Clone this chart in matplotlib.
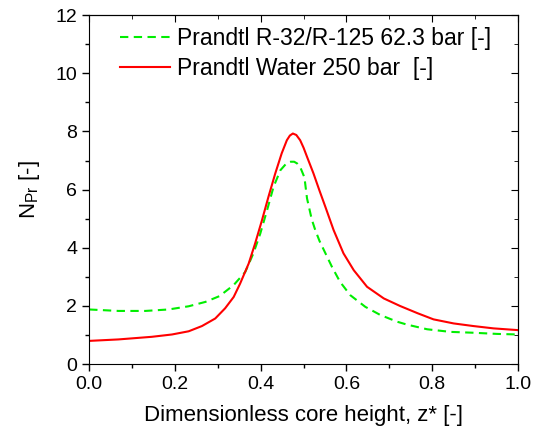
import numpy as np
import matplotlib
matplotlib.use('Agg')
import matplotlib.pyplot as plt

# Dados
z_agua = [0.0, 0.068, 0.146, 0.193, 0.232, 0.263, 0.294, 0.317, 0.337, 0.352, 0.372,
          0.387, 0.403, 0.418, 0.434, 0.449, 0.461, 0.468, 0.475, 0.483, 0.492, 0.500,
          0.508, 0.523, 0.537, 0.551, 0.570, 0.593, 0.617, 0.648, 0.687, 0.725, 0.766,
          0.803, 0.850, 0.896, 0.943, 1.0]
pr_agua = [0.80, 0.85, 0.94, 1.02, 1.13, 1.31, 1.57, 1.92, 2.31, 2.77, 3.46,
           4.15, 4.95, 5.75, 6.56, 7.25, 7.70, 7.86, 7.93, 7.88, 7.70, 7.44,
           7.13, 6.56, 5.97, 5.40, 4.61, 3.81, 3.23, 2.66, 2.26, 2.00, 1.75,
           1.54, 1.40, 1.31, 1.23, 1.17]

z_r32 = [0.0, 0.068, 0.131, 0.185, 0.232, 0.271, 0.304, 0.317, 0.337, 0.364, 0.383,
         0.399, 0.415, 0.430, 0.446, 0.461, 0.470, 0.478, 0.485, 0.492, 0.502, 0.508,
         0.519, 0.527, 0.537, 0.551, 0.566, 0.585, 0.609, 0.644, 0.679, 0.718, 0.741,
         0.788, 0.842, 0.896, 0.951, 1.0]
pr_r32 = [1.88, 1.83, 1.83, 1.88, 1.99, 2.14, 2.34, 2.49, 2.72, 3.17, 3.81,
          4.49, 5.30, 6.10, 6.67, 6.92, 6.96, 6.96, 6.90, 6.78, 6.42, 5.70,
          4.98, 4.62, 4.24, 3.81, 3.35, 2.83, 2.37, 1.97, 1.69, 1.46, 1.36,
          1.20, 1.11, 1.08, 1.04, 1.02]

plt.rcParams['font.family'] = ['Liberation Sans', 'DejaVu Sans']

fig = plt.figure(figsize=(5.47, 4.33), dpi=100)
ax = fig.add_axes([0.163, 0.159, 0.784, 0.806])

ax.plot(z_r32, pr_r32, color='#00ee00', linestyle=(0, (4, 2.6)), linewidth=1.5,
        label='Prandtl R-32/R-125 62.3 bar [-]')
ax.plot(z_agua, pr_agua, color='#ff0000', linewidth=1.5,
        label='Prandtl Water 250 bar  [-]')

ax.set_xlim(0, 1.0)
ax.set_ylim(0, 12)
ax.set_xticks(np.arange(0, 1.01, 0.2))
ax.set_xticks(np.arange(0, 1.01, 0.1), minor=True)
ax.set_yticks(np.arange(0, 13, 2))
ax.set_yticks(np.arange(0, 13, 1), minor=True)
ax.xaxis.set_major_formatter(matplotlib.ticker.FormatStrFormatter('%.1f'))
ax.tick_params(which='major', direction='out', length=5, width=1, labelsize=14)
ax.tick_params(which='minor', direction='out', length=3, width=1)

# eixos superior e direito com ticks para dentro
topo = ax.secondary_xaxis('top')
topo.set_xticks(np.arange(0, 1.01, 0.2))
topo.set_xticks(np.arange(0, 1.01, 0.1), minor=True)
topo.tick_params(which='major', direction='in', length=5, labeltop=False)
topo.tick_params(which='minor', direction='in', length=3)
direita = ax.secondary_yaxis('right')
direita.set_yticks(np.arange(0, 13, 2))
direita.set_yticks(np.arange(0, 13, 1), minor=True)
direita.tick_params(which='major', direction='in', length=5, labelright=False)
direita.tick_params(which='minor', direction='in', length=3)

ax.set_xlabel('Dimensionless core height, z* [-]', fontsize=16, labelpad=9)
ax.set_ylabel('N$_{\\mathregular{Pr}}$ [-]', fontsize=16, labelpad=10)

ax.legend(loc='upper left', bbox_to_anchor=(0.04, 1.005), frameon=False, fontsize=16.5,
          handlelength=2.2, handletextpad=0.3, labelspacing=0.3, borderaxespad=0.2)

fig.savefig('out.png', dpi=100)
